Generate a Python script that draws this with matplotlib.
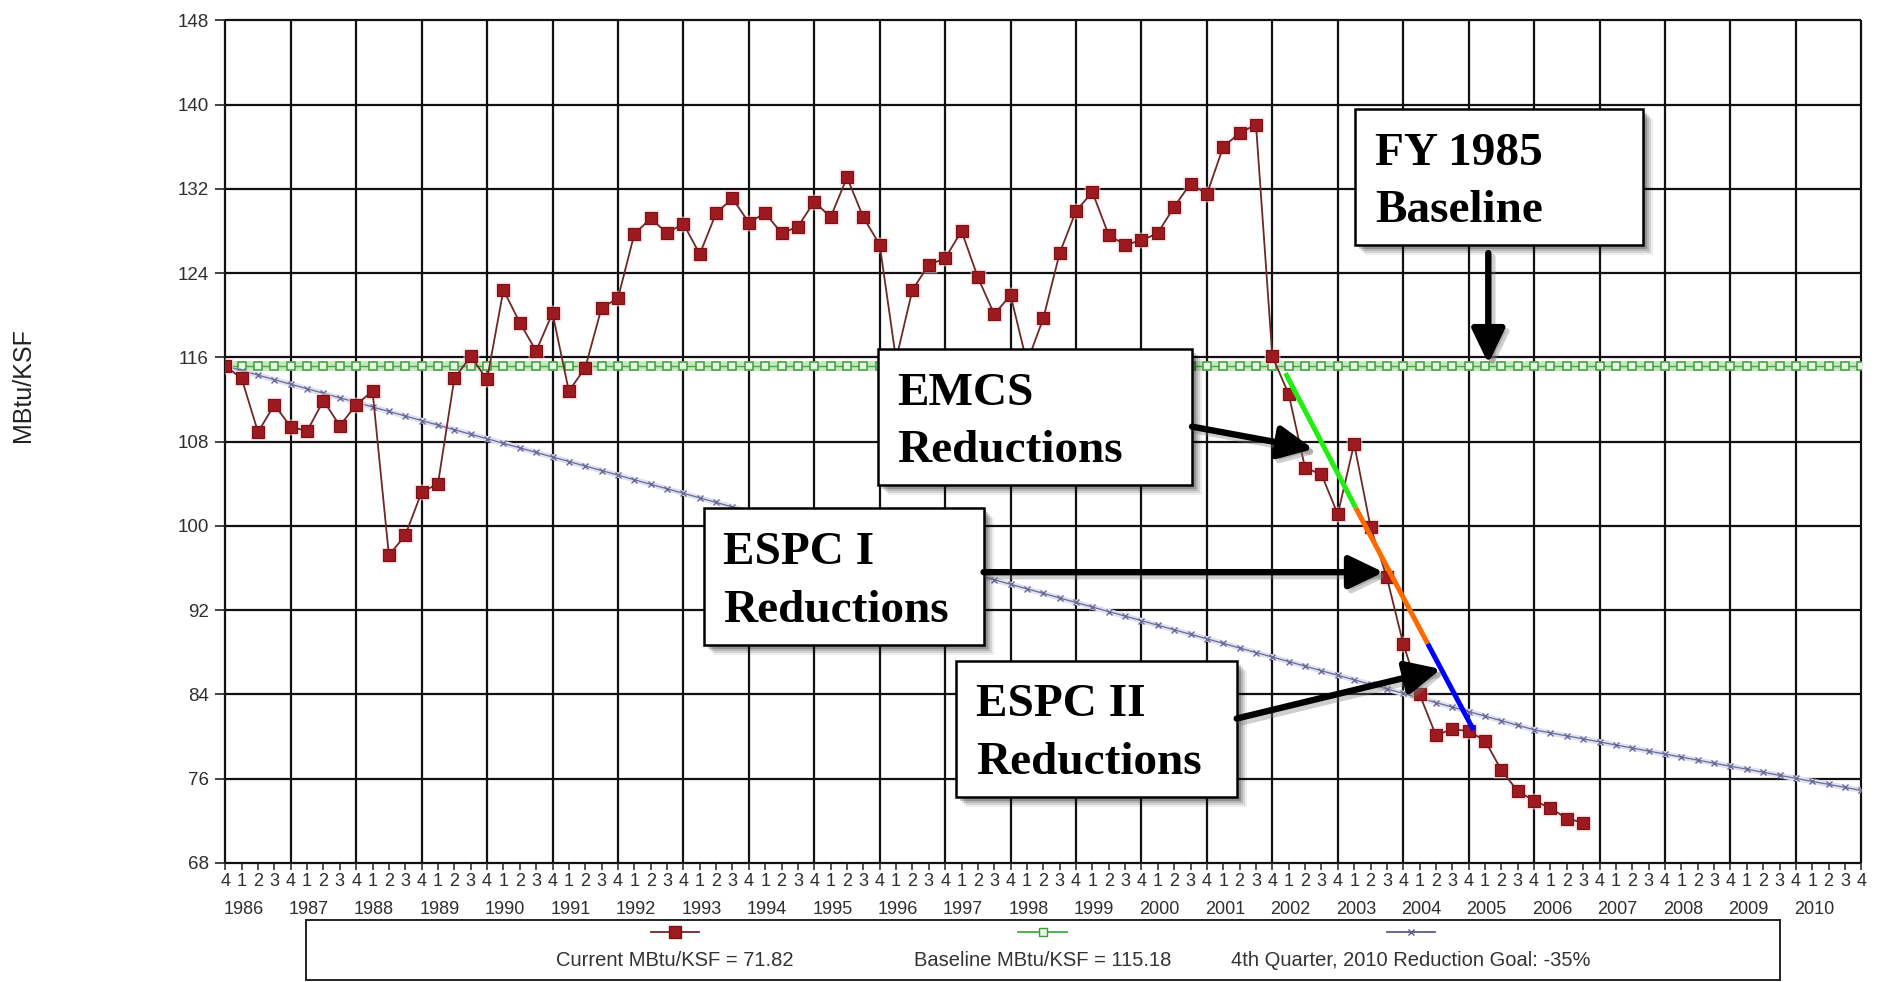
import numpy as np
import matplotlib
matplotlib.use("Agg")
import matplotlib.pyplot as plt
from matplotlib.patches import Rectangle, FancyArrowPatch, ArrowStyle
from matplotlib.lines import Line2D
from matplotlib import transforms

plt.rcParams['font.family'] = ['Liberation Sans', 'DejaVu Sans']

# ---------------- data ----------------
fiscal_years = [1986, 1987, 1988, 1989, 1990, 1991, 1992, 1993, 1994, 1995, 1996, 1997,
                1998, 1999, 2000, 2001, 2002, 2003, 2004, 2005, 2006, 2007, 2008, 2009, 2010]
quarter_labels = ['4'] + ['1', '2', '3', '4'] * 25          # 4Q FY85 ... 4Q FY2010
y_ticks = [68, 76, 84, 92, 100, 108, 116, 124, 132, 140, 148]

current_mbtu = [
    115.18, 114.0, 108.9, 111.5, 109.4, 109.0, 111.9, 109.5, 111.5, 112.8,
    97.2, 99.1, 103.2, 104.0, 114.0, 116.1, 113.9, 122.4, 119.3, 116.6,
    120.2, 112.8, 115.0, 120.7, 121.6, 127.7, 129.2, 127.8, 128.7, 125.8,
    129.7, 131.1, 128.8, 129.7, 127.8, 128.4, 130.8, 129.3, 133.1, 129.3,
    126.7, 115.8, 122.4, 124.8, 125.4, 128.0, 123.6, 120.1, 121.9, 115.5,
    119.7, 125.9, 129.9, 131.7, 127.6, 126.7, 127.1, 127.8, 130.3, 132.5,
    131.5, 136.0, 137.3, 138.1, 116.1, 112.5, 105.5, 104.9, 101.1, 107.8,
    99.9, 95.1, 88.8, 84.0, 80.1, 80.7, 80.5, 79.6, 76.8, 74.8,
    73.9, 73.2, 72.2, 71.82]

baseline_mbtu = 115.18

goal_mbtu = [
    115.18, 114.75, 114.32, 113.88, 113.45, 113.02, 112.59, 112.16, 111.73, 111.29,
    110.86, 110.43, 110.00, 109.57, 109.13, 108.70, 108.27, 107.84, 107.41, 106.97,
    106.54, 106.11, 105.68, 105.25, 104.82, 104.38, 103.95, 103.52, 103.09, 102.66,
    102.22, 101.79, 101.36, 100.93, 100.50, 100.06, 99.63, 99.20, 98.77, 98.34,
    97.91, 97.47, 97.04, 96.61, 96.18, 95.75, 95.31, 94.88, 94.45, 94.02,
    93.59, 93.15, 92.72, 92.29, 91.86, 91.43, 91.00, 90.56, 90.13, 89.70,
    89.27, 88.84, 88.40, 87.97, 87.54, 87.11, 86.68, 86.24, 85.81, 85.38,
    84.95, 84.52, 84.08, 83.65, 83.22, 82.79, 82.36, 81.93, 81.49, 81.06,
    80.63, 80.34, 80.05, 79.77, 79.48, 79.19, 78.90, 78.61, 78.33, 78.04,
    77.75, 77.46, 77.17, 76.89, 76.60, 76.31, 76.02, 75.73, 75.45, 75.16,
    74.87]

# reduction trend segments (quarter index, MBtu/KSF)
segment_q = [64.8, 69.1, 73.5, 76.3]
segment_v = [114.5, 101.7, 88.8, 80.6]
segment_colors = ['#22ee11', '#ff6a00', '#0000ff']

box_texts = [("FY 1985", "Baseline"), ("EMCS", "Reductions"),
             ("ESPC I", "Reductions"), ("ESPC II", "Reductions")]

legend_labels = ["Current MBtu/KSF = 71.82", "Baseline MBtu/KSF = 115.18",
                 "4th Quarter, 2010 Reduction Goal: -35%"]

# ---------------- layout ----------------
W, H = 1879, 982
def fx(px):
    return px / W
def fy(py):
    return 1 - py / H

fig = plt.figure(figsize=(W / 100, H / 100), dpi=100)
ax = fig.add_axes([fx(225.3), fy(862.8), (1861.3 - 225.3) / W, (862.8 - 20.4) / H])
ax.set_xlim(0, 100)
ax.set_ylim(68, 148)
for s in ax.spines.values():
    s.set_visible(False)

q_all = np.arange(len(quarter_labels))
year_pos = q_all[::4]
ax.vlines(year_pos, 68, 148, colors='#111111', lw=1.6, zorder=1, clip_on=False)
ax.hlines(y_ticks, 0, 100, colors='#111111', lw=1.6, zorder=1, clip_on=False)

ax.set_yticks(y_ticks)
ax.set_yticklabels([str(v) for v in y_ticks])
ax.tick_params(axis='y', length=7, width=1.2, color='#222222', pad=5,
               labelsize=13.5, labelcolor='#2e2e2e')
ax.set_xticks(q_all)
ax.set_xticklabels(quarter_labels)
ax.tick_params(axis='x', length=5, width=1.1, color='#222222', pad=2.5,
               labelsize=13, labelcolor='#2e2e2e')

btrans = transforms.blended_transform_factory(ax.transData, fig.transFigure)
for i, yr in enumerate(fiscal_years):
    ax.text(year_pos[i] + 1.1, fy(909.3), str(yr), transform=btrans, ha='center',
            va='center', fontsize=13, color='#2e2e2e')

fig.text(fx(23), fy(385), 'MBtu/KSF', rotation=90, ha='center', va='center',
         fontsize=18, color='#222222')

# baseline
base_vals = np.full(len(q_all), baseline_mbtu)
ax.plot(q_all, base_vals, color='#c5e9bd', lw=7, zorder=2, solid_capstyle='butt')
ax.plot(q_all, base_vals, color='#44aa44', lw=1, marker='s', ms=6.2, mfc='#e6f6e0',
        mec='#3c9c3c', mew=1.1, zorder=3)

# goal
q_goal = np.arange(len(goal_mbtu))
ax.plot(q_goal, goal_mbtu, color='#e0e0f0', lw=4, zorder=2.5)
ax.plot(q_goal, goal_mbtu, color='#6a6a96', lw=0.9, marker='x', ms=4.5, mew=1, zorder=3)

# current
q_cur = np.arange(len(current_mbtu))
ax.plot(q_cur, current_mbtu, ls='none', marker='s', ms=11.5, mfc='#f6d0d0', mec='none',
        alpha=0.6, zorder=3.8)
ax.plot(q_cur, current_mbtu, color='#6e2828', lw=1.3, marker='s', ms=8.6,
        mfc='#9c1a20', mec='#7a1218', mew=0.8, zorder=4)

# trend segments
for i in range(len(segment_colors)):
    ax.plot(segment_q[i:i + 2], segment_v[i:i + 2], color=segment_colors[i], lw=3.6,
            solid_capstyle='butt', zorder=5)

# annotation boxes (left, top, right, bottom in data units)
box_geom = [(69.08, 139.63, 86.63, 126.67),
            (39.90, 116.83, 59.09, 103.86),
            (29.23, 101.65, 46.35, 88.68),
            (44.68, 87.21, 61.82, 74.25)]
for (l, t, r, b), (line1, line2) in zip(box_geom, box_texts):
    for d, a in [(10, 0.07), (8, 0.10), (6, 0.14), (4, 0.2)]:
        tr = transforms.offset_copy(ax.transData, fig=fig, x=d, y=-d, units='dots')
        ax.add_patch(Rectangle((l, b), r - l, t - b, transform=tr, facecolor='black',
                               edgecolor='none', alpha=a, zorder=6, clip_on=False))
    ax.add_patch(Rectangle((l, b), r - l, t - b, facecolor='white', edgecolor='black',
                           lw=1.8, zorder=6.5, clip_on=False))
    for txt, dy in [(line1, -40.3), (line2, -81.7)]:
        ax.annotate(txt, xy=(l, t), xycoords='data', xytext=(14.0, dy),
                    textcoords='offset points', fontsize=34, fontweight='bold',
                    family='Liberation Serif', ha='left', va='baseline', zorder=8)

# arrows
arrows = [((59.09, 109.42), (66.5, 107.3)),
          ((46.35, 95.6), (70.8, 95.6)),
          ((61.82, 81.7), (74.3, 86.4)),
          ((77.2, 125.9), (77.2, 115.4))]
style = ArrowStyle('-|>', head_length=0.75, head_width=0.36)
for pa, pb in arrows:
    trs = transforms.offset_copy(ax.transData, fig=fig, x=4, y=-4, units='dots')
    ax.add_patch(FancyArrowPatch(pa, pb, transform=trs, arrowstyle=style,
                                 mutation_scale=28, lw=4.6, color='#777777', alpha=0.35,
                                 shrinkA=0, shrinkB=0, zorder=8.5, clip_on=False))
    ax.add_patch(FancyArrowPatch(pa, pb, arrowstyle=style, mutation_scale=28, lw=4.6,
                                 color='black', shrinkA=0, shrinkB=0, zorder=9,
                                 clip_on=False))

# legend box
fig.add_artist(Rectangle((fx(305.5), fy(980)), (1780 - 305.5) / W, (980 - 920) / H,
                         transform=fig.transFigure, fill=False, ec='#222222', lw=1.4))
leg_x = [674.5, 1042.5, 1410.5]
leg_styles = [dict(color='#6e2828', marker='s', ms=8, mfc='#9c1a20', mec='#7a1218'),
              dict(color='#44aa44', marker='s', ms=6.2, mfc='#e6f6e0', mec='#3c9c3c'),
              dict(color='#5a5a8a', marker='x', ms=5, mew=1)]
for x, lab, st in zip(leg_x, legend_labels, leg_styles):
    fig.add_artist(Line2D([fx(x - 24), fx(x + 24)], [fy(932), fy(932)], lw=1.3,
                          color=st['color'], transform=fig.transFigure))
    fig.add_artist(Line2D([fx(x)], [fy(932)], transform=fig.transFigure, ls='none', **st))
    fig.text(fx(x), fy(961), lab, ha='center', va='center', fontsize=14.5, color='#333333')

fig.savefig('out.png', dpi=100)
